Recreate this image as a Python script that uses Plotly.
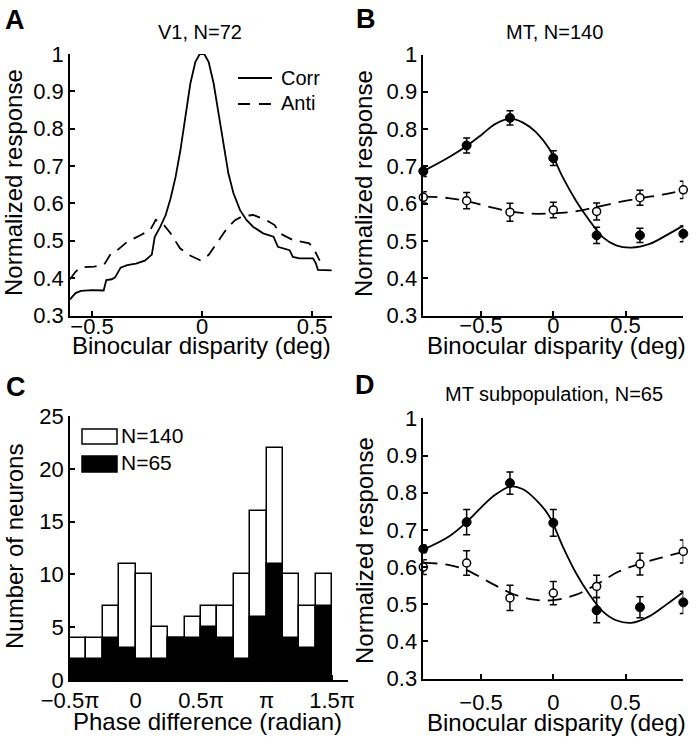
import plotly.graph_objects as go

FONT = "Liberation Sans, Arial, sans-serif"
W, H = 698, 737

# ---------------- Panel A data (V1, N=72) ----------------
a_corr_x = [-0.6, -0.575, -0.55, -0.5, -0.447, -0.435, -0.41, -0.395, -0.37, -0.34, -0.3, -0.26,
            -0.228, -0.215, -0.19, -0.165, -0.143, -0.12, -0.098, -0.075, -0.053, -0.03, -0.01,
            0.01, 0.03, 0.053, 0.075, 0.098, 0.12, 0.143, 0.173, 0.203, 0.233, 0.278, 0.325,
            0.345, 0.37, 0.398, 0.413, 0.443, 0.505, 0.518, 0.527, 0.59]
a_corr_y = [0.343, 0.36, 0.366, 0.368, 0.367, 0.395, 0.397, 0.402, 0.428, 0.435, 0.439, 0.447,
            0.463, 0.51, 0.537, 0.569, 0.613, 0.671, 0.743, 0.832, 0.921, 0.979, 1.0,
            1.0, 0.979, 0.921, 0.841, 0.752, 0.68, 0.627, 0.582, 0.555, 0.537, 0.52, 0.511,
            0.484, 0.479, 0.475, 0.457, 0.453, 0.453, 0.439, 0.422, 0.421]
a_anti_x = [-0.6, -0.575, -0.55, -0.49, -0.445, -0.415, -0.385, -0.34, -0.28, -0.235, -0.21,
            -0.19, -0.17, -0.143, -0.1, -0.06, -0.008, 0.03, 0.068, 0.113, 0.15, 0.185, 0.233,
            0.293, 0.33, 0.353, 0.413, 0.488, 0.511, 0.535]
a_anti_y = [0.397, 0.417, 0.429, 0.431, 0.436, 0.465, 0.475, 0.497, 0.515, 0.529, 0.556,
            0.548, 0.54, 0.52, 0.48, 0.462, 0.448, 0.462, 0.493, 0.533, 0.555, 0.566, 0.569,
            0.555, 0.542, 0.52, 0.502, 0.493, 0.475, 0.447]

# ---------------- Panels B / D data ----------------
disp = [-0.9, -0.6, -0.3, 0.0, 0.3, 0.6, 0.9]

b_corr = [0.687, 0.756, 0.830, 0.722, 0.515, 0.515, 0.519]
b_corr_err = [0.014, 0.020, 0.019, 0.020, 0.022, 0.019, 0.021]
b_anti = [0.617, 0.608, 0.577, 0.583, 0.579, 0.616, 0.637]
b_anti_err = [0.015, 0.022, 0.024, 0.021, 0.023, 0.020, 0.023]

d_corr = [0.649, 0.721, 0.826, 0.719, 0.484, 0.492, 0.505]
d_corr_err = [0.010, 0.034, 0.030, 0.036, 0.034, 0.028, 0.030]
d_anti = [0.600, 0.611, 0.517, 0.530, 0.548, 0.608, 0.642]
d_anti_err = [0.020, 0.033, 0.034, 0.031, 0.030, 0.029, 0.031]

fit_corr_x = [-0.9, -0.72, -0.595, -0.49, -0.4, -0.294, -0.213, -0.12, -0.028, 0.065, 0.157,
              0.25, 0.342, 0.435, 0.54, 0.667, 0.782, 0.9]
b_fit_corr = [0.687, 0.725, 0.756, 0.787, 0.814, 0.828, 0.818, 0.792, 0.747, 0.671, 0.608,
              0.555, 0.51, 0.488, 0.482, 0.492, 0.515, 0.541]
d_fit_corr = [0.647, 0.683, 0.723, 0.764, 0.795, 0.817, 0.81, 0.781, 0.737, 0.656, 0.584,
              0.526, 0.481, 0.457, 0.45, 0.468, 0.499, 0.533]

fit_anti_x = [-0.9, -0.727, -0.6, -0.45, -0.3, -0.148, 0.0, 0.153, 0.303, 0.453, 0.609, 0.755, 0.9]
b_fit_anti = [0.619, 0.615, 0.607, 0.592, 0.579, 0.573, 0.574, 0.579, 0.591, 0.604, 0.615, 0.624, 0.635]
d_fit_anti = [0.612, 0.606, 0.592, 0.561, 0.531, 0.513, 0.511, 0.525, 0.554, 0.588, 0.61, 0.626, 0.641]

# ---------------- Panel C data (phase difference histogram, units of pi) ----------------
phase_bins = [-0.4375, -0.3125, -0.1875, -0.0625, 0.0625, 0.1875, 0.3125, 0.4375,
              0.5625, 0.6875, 0.8125, 0.9375, 1.0625, 1.1875, 1.3125, 1.4375]
count_all = [4, 4, 7, 11, 10, 5, 4, 6, 7, 7, 10, 16, 22, 10, 7, 10]     # N=140
count_sub = [2, 2, 4, 3, 2, 2, 4, 4, 5, 4, 2, 6, 11, 4, 3, 7]          # N=65
bin_width = 0.125

y_ticks_resp = [0.3, 0.4, 0.5, 0.6, 0.7, 0.8, 0.9, 1.0]
y_ticklabels_resp = ["0.3", "0.4", "0.5", "0.6", "0.7", "0.8", "0.9", "1"]
x_ticks_a = [-0.5, 0, 0.5]
x_ticks_bd = [-0.5, 0, 0.5]
x_ticklabels = ["\u22120.5", "0", "0.5"]
c_xticks = [-0.5, 0, 0.5, 1, 1.5]
c_xticklabels = ["\u22120.5\u03c0", "0", "0.5\u03c0", "\u03c0", "1.5\u03c0"]
c_yticks = [0, 5, 10, 15, 20, 25]


def PX(p):
    return p / W


def PY(p):
    return 1 - p / H


fig = go.Figure()

LW = 1.8
# Panel A
fig.add_trace(go.Scatter(x=a_corr_x, y=a_corr_y, mode="lines", line=dict(color="black", width=LW),
                         xaxis="x", yaxis="y", showlegend=False))
fig.add_trace(go.Scatter(x=a_anti_x, y=a_anti_y, mode="lines",
                         line=dict(color="black", width=LW, dash="12px,8px"),
                         xaxis="x", yaxis="y", showlegend=False))


def add_tuning(xa, ya, fitc, fita, corr, corr_err, anti, anti_err):
    fig.add_trace(go.Scatter(x=fit_corr_x, y=fitc, mode="lines", line=dict(color="black", width=LW, shape="spline"),
                             xaxis=xa, yaxis=ya, showlegend=False, cliponaxis=False))
    fig.add_trace(go.Scatter(x=fit_anti_x, y=fita, mode="lines",
                             line=dict(color="black", width=LW, shape="spline", dash="14px,8px"),
                             xaxis=xa, yaxis=ya, showlegend=False, cliponaxis=False))
    fig.add_trace(go.Scatter(x=disp, y=corr, mode="markers",
                             marker=dict(color="black", size=9, line=dict(color="black", width=1)),
                             error_y=dict(type="data", array=corr_err, color="black", thickness=1.5, width=3.5),
                             xaxis=xa, yaxis=ya, showlegend=False, cliponaxis=False))
    fig.add_trace(go.Scatter(x=disp, y=anti, mode="markers",
                             marker=dict(color="white", size=8, line=dict(color="black", width=1.5)),
                             error_y=dict(type="data", array=anti_err, color="black", thickness=1.5, width=3.5),
                             xaxis=xa, yaxis=ya, showlegend=False, cliponaxis=False))


add_tuning("x2", "y2", b_fit_corr, b_fit_anti, b_corr, b_corr_err, b_anti, b_anti_err)
add_tuning("x4", "y4", d_fit_corr, d_fit_anti, d_corr, d_corr_err, d_anti, d_anti_err)

# Panel C
fig.add_trace(go.Bar(x=phase_bins, y=count_all, width=bin_width, marker=dict(color="white", line=dict(color="black", width=1.5)),
                     xaxis="x3", yaxis="y3", showlegend=False))
fig.add_trace(go.Bar(x=phase_bins, y=count_sub, width=bin_width, marker=dict(color="black", line=dict(color="black", width=1.5)),
                     xaxis="x3", yaxis="y3", showlegend=False))

tickfont = dict(family=FONT, size=22, color="black")
base = dict(showline=True, linecolor="black", linewidth=1.5, ticks="inside", ticklen=5, tickwidth=1.5,
            tickcolor="black", showgrid=False, zeroline=False, tickfont=tickfont, fixedrange=True,
            automargin=False)

layout = dict(
    width=W, height=H, margin=dict(l=0, r=0, t=0, b=0, autoexpand=False),
    paper_bgcolor="white", plot_bgcolor="white", barmode="overlay", bargap=0,
    font=dict(family=FONT, color="black"),
    xaxis=dict(base, domain=[PX(70), PX(331.8)], range=[-0.6, 0.59], anchor="y",
               tickvals=x_ticks_a, ticktext=x_ticklabels, ticklabelstandoff=-10),
    yaxis=dict(base, domain=[PY(315.5), PY(54)], range=[0.3, 1.0], anchor="x",
               tickvals=y_ticks_resp, ticktext=y_ticklabels_resp),
    xaxis2=dict(base, domain=[PX(423.3), PX(683.3)], range=[-0.9, 0.9], anchor="y2",
                tickvals=x_ticks_bd, ticktext=x_ticklabels, ticklabelstandoff=-11),
    yaxis2=dict(base, domain=[PY(315.5), PY(54.5)], range=[0.3, 1.0], anchor="x2",
                tickvals=y_ticks_resp, ticktext=y_ticklabels_resp),
    xaxis3=dict(base, domain=[PX(70), PX(348)], range=[-0.5, 1.622], anchor="y3",
                tickvals=c_xticks, ticktext=c_xticklabels, ticklabelstandoff=0),
    yaxis3=dict(base, domain=[PY(680), PY(416)], range=[0, 25], anchor="x3",
                tickvals=c_yticks),
    xaxis4=dict(base, domain=[PX(423.3), PX(683.3)], range=[-0.9, 0.9], anchor="y4",
                tickvals=x_ticks_bd, ticktext=x_ticklabels, ticklabelstandoff=3),
    yaxis4=dict(base, domain=[PY(678.6), PY(418.4)], range=[0.3, 1.0], anchor="x4",
                tickvals=y_ticks_resp, ticktext=y_ticklabels_resp),
)
fig.update_layout(**layout)


def ann(text, x, y, size, bold=False, angle=0, xanchor="center"):
    fig.add_annotation(text=f"<b>{text}</b>" if bold else text, x=PX(x), y=PY(y), xref="paper", yref="paper",
                       showarrow=False, xanchor=xanchor, yanchor="middle", textangle=angle,
                       font=dict(family=FONT, size=size, color="black"))


# Panel letters
ann("A", 14.5, 19.5, 27, bold=True)
ann("B", 366, 18.5, 27, bold=True)
ann("C", 16, 387, 27, bold=True)
ann("D", 365, 385, 27, bold=True)

# Titles
ann("V1, N=72", 200, 32, 20)
ann("MT, N=140", 554, 32, 20)
ann("MT subpopulation, N=65", 554, 394, 20)

# Axis titles
ann("Binocular disparity (deg)", 202, 345, 24)
ann("Binocular disparity (deg)", 556, 345, 24)
ann("Phase difference (radian)", 207, 721, 24)
ann("Binocular disparity (deg)", 556, 722, 24)
ann("Normalized response", 14, 183, 24, angle=-90)
ann("Normalized response", 364, 183, 24, angle=-90)
ann("Number of neurons", 14, 547, 24, angle=-90)
ann("Normalized response", 364, 550, 24, angle=-90)

# Legend for A
fig.add_shape(type="line", xref="paper", yref="paper", x0=PX(238), x1=PX(272), y0=PY(78), y1=PY(78),
              line=dict(color="black", width=LW))
fig.add_shape(type="line", xref="paper", yref="paper", x0=PX(238), x1=PX(272), y0=PY(104), y1=PY(104),
              line=dict(color="black", width=LW, dash="12px,9px"))
ann("Corr", 279, 77.5, 20, xanchor="left")
ann("Anti", 279, 103, 20, xanchor="left")

# Legend for C
fig.add_shape(type="rect", xref="paper", yref="paper", x0=PX(82), x1=PX(117), y0=PY(444), y1=PY(429),
              line=dict(color="black", width=1.5), fillcolor="white")
fig.add_shape(type="rect", xref="paper", yref="paper", x0=PX(82), x1=PX(117), y0=PY(472), y1=PY(456),
              line=dict(color="black", width=1.5), fillcolor="black")
ann("N=140", 119, 435, 21, xanchor="left")
ann("N=65", 119, 462, 21, xanchor="left")

fig.write_html("out.html", config={"displayModeBar": False},
               post_script="document.body.style.margin='0px';")
